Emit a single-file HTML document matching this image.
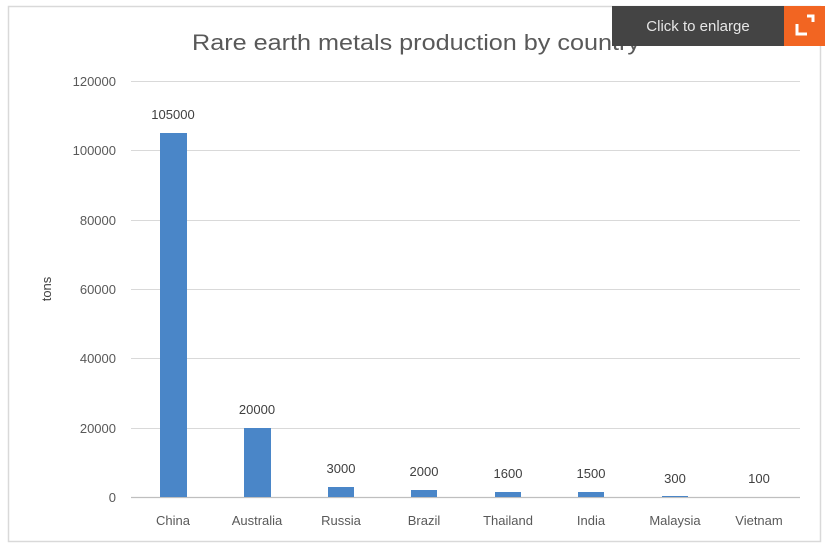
<!DOCTYPE html>
<html><head><meta charset="utf-8"><style>
html,body{margin:0;padding:0;background:#fff;}
svg{display:block;font-family:"Liberation Sans",sans-serif;}
</style></head><body>
<svg width="832" height="552" viewBox="0 0 832 552" xmlns="http://www.w3.org/2000/svg">
<rect x="0" y="0" width="832" height="552" fill="#fff"/>
<rect x="8.5" y="6.5" width="812" height="535" fill="#fff" stroke="#d9d9d9" stroke-width="1.5"/>
<text x="192" y="50" font-size="22" fill="#595959" textLength="448" lengthAdjust="spacingAndGlyphs">Rare earth metals production by country</text>
<g stroke="#d9d9d9" stroke-width="1">
<line x1="131" x2="800" y1="81.5" y2="81.5"/>
<line x1="131" x2="800" y1="150.5" y2="150.5"/>
<line x1="131" x2="800" y1="220.5" y2="220.5"/>
<line x1="131" x2="800" y1="289.5" y2="289.5"/>
<line x1="131" x2="800" y1="358.5" y2="358.5"/>
<line x1="131" x2="800" y1="428.5" y2="428.5"/>
</g>
<line x1="131" x2="800" y1="497.5" y2="497.5" stroke="#bfbfbf" stroke-width="1.2"/>
<g font-size="13" fill="#595959" text-anchor="end">
<text x="116" y="86">120000</text>
<text x="116" y="155">100000</text>
<text x="116" y="225">80000</text>
<text x="116" y="294">60000</text>
<text x="116" y="363">40000</text>
<text x="116" y="433">20000</text>
<text x="116" y="502">0</text>
</g>
<text transform="translate(51,289) rotate(-90)" font-size="13" fill="#404040" text-anchor="middle">tons</text>
<g fill="#4a86c8">
<rect x="160" y="133" width="27" height="364"/>
<rect x="244" y="428" width="27" height="69"/>
<rect x="328" y="487" width="26" height="10"/>
<rect x="411" y="490" width="26" height="7"/>
<rect x="495" y="492" width="26" height="5"/>
<rect x="578" y="492" width="26" height="5"/>
<rect x="662" y="496" width="26" height="1"/>
</g>
<g font-size="13" fill="#404040" text-anchor="middle">
<text x="173" y="119">105000</text>
<text x="257" y="414">20000</text>
<text x="341" y="473">3000</text>
<text x="424" y="476">2000</text>
<text x="508" y="478">1600</text>
<text x="591" y="478">1500</text>
<text x="675" y="483">300</text>
<text x="759" y="483">100</text>
</g>
<g font-size="13" fill="#595959" text-anchor="middle">
<text x="173" y="525">China</text>
<text x="257" y="525">Australia</text>
<text x="341" y="525">Russia</text>
<text x="424" y="525">Brazil</text>
<text x="508" y="525">Thailand</text>
<text x="591" y="525">India</text>
<text x="675" y="525">Malaysia</text>
<text x="759" y="525">Vietnam</text>
</g>
<rect x="612" y="6" width="173" height="40" fill="#444444"/>
<text x="698" y="31" font-size="15" fill="#e6e6e6" text-anchor="middle">Click to enlarge</text>
<rect x="784" y="6" width="41" height="40" fill="#f26522"/>
<path d="M797 24 v10 h10 M807 16 h6 v6" stroke="#fff" stroke-width="3" fill="none"/>
</svg>
</body></html>
